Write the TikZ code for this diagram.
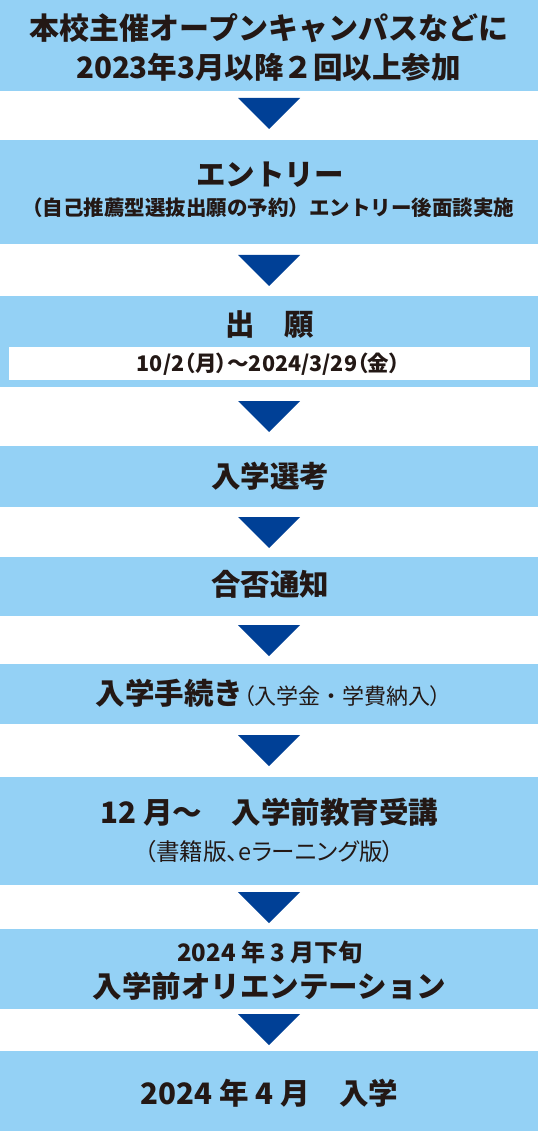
\documentclass[tikz,border=0pt]{standalone}
\usepackage{fontspec}
\setmainfont{Noto Sans CJK JP}
\newfontfamily\jpp{Noto Sans CJK JP}[RawFeature=+palt]
\definecolor{boxblue}{HTML}{94D1F5}
\definecolor{triblue}{HTML}{004096}
\definecolor{ink}{HTML}{231815}
\tikzset{
  stepbox/.style={fill=boxblue, minimum width=538pt, inner sep=0pt, outer sep=0pt, anchor=north},
  big/.style={text=ink, inner sep=0pt, font=\fontsize{29.5}{32}\selectfont\bfseries},
  small/.style={text=ink, inner sep=0pt, font=\fontsize{20.5}{24}\selectfont\bfseries},
  note/.style={text=ink, inner sep=0pt, font=\jpp\fontsize{23.5}{26}\selectfont},
  tri/.style={fill=triblue}
}
\begin{document}
\begin{tikzpicture}[x=1pt,y=-1pt]
	\useasboundingbox (0,0) rectangle (538,1131);
	\node[stepbox, minimum height=91pt] (b1) at (269,0) {};
	\node[stepbox, minimum height=104pt] (b2) at (269,140) {};
	\node[stepbox, minimum height=91pt] (b3) at (269,296) {};
	\node[stepbox, minimum height=61pt] (b4) at (269,446) {};
	\node[stepbox, minimum height=59pt] (b5) at (269,557) {};
	\node[stepbox, minimum height=60pt] (b6) at (269,664) {};
	\node[stepbox, minimum height=108pt] (b7) at (269,777) {};
	\node[stepbox, minimum height=80pt] (b8) at (269,929) {};
	\node[stepbox, minimum height=80pt] (b9) at (269,1051) {};
	\node[fill=white, minimum width=521pt, minimum height=33pt, inner sep=0pt, anchor=north west] (d3) at (9,347) {};
	\foreach \b/\d in {b1/7, b2/11, b3/14, b4/10, b5/9, b6/11, b7/7, b8/5}
		\fill[tri] ([yshift=-\d pt]\b.south) ++(-31,0) -- ++(62,0) -- ++(-31,31) -- cycle;
	\node[big, font=\fontsize{30}{32}\selectfont\bfseries] (t1a) at (269,28) {本校主催オープンキャンパスなどに};
	\node[big] (t1b) at (268.5,67) {2023年3月以降２回以上参加};
	\node[big] (t2a) at (270,175) {エントリー};
	\node[small] (t2b) at (268,208) {（自己推薦型選抜出願の予約）エントリー後面談実施};
	\node[big] (t3) at (270,325) {出　願};
	\node[small, font=\jpp\fontsize{21.5}{24}\selectfont\bfseries] (t3d) at (268.5,364) {10/2（月）～2024/3/29（金）};
	\node[big] (t4) at (270,476) {入学選考};
	\node[big] (t5) at (270,584) {合否通知};
	\node[big] (t6) at (268.5,693) {入学手続き{\mdseries\fontsize{22}{24}\selectfont{\jpp （}入学金・学費納入{\jpp ）}}};
	\node[big] (t7a) at (269.5,812) {12 月～　入学前教育受講};
	\node[note] (t7b) at (269.5,852) {（書籍版、eラーニング版）};
	\node[big, font=\fontsize{24}{26}\selectfont\bfseries] (t8a) at (270,952) {2024 年 3 月下旬};
	\node[big] (t8b) at (269.5,986) {入学前オリエンテーション};
	\node[big] (t9) at (269.5,1093) {2024 年 4 月　入学};
\end{tikzpicture}
\end{document}
